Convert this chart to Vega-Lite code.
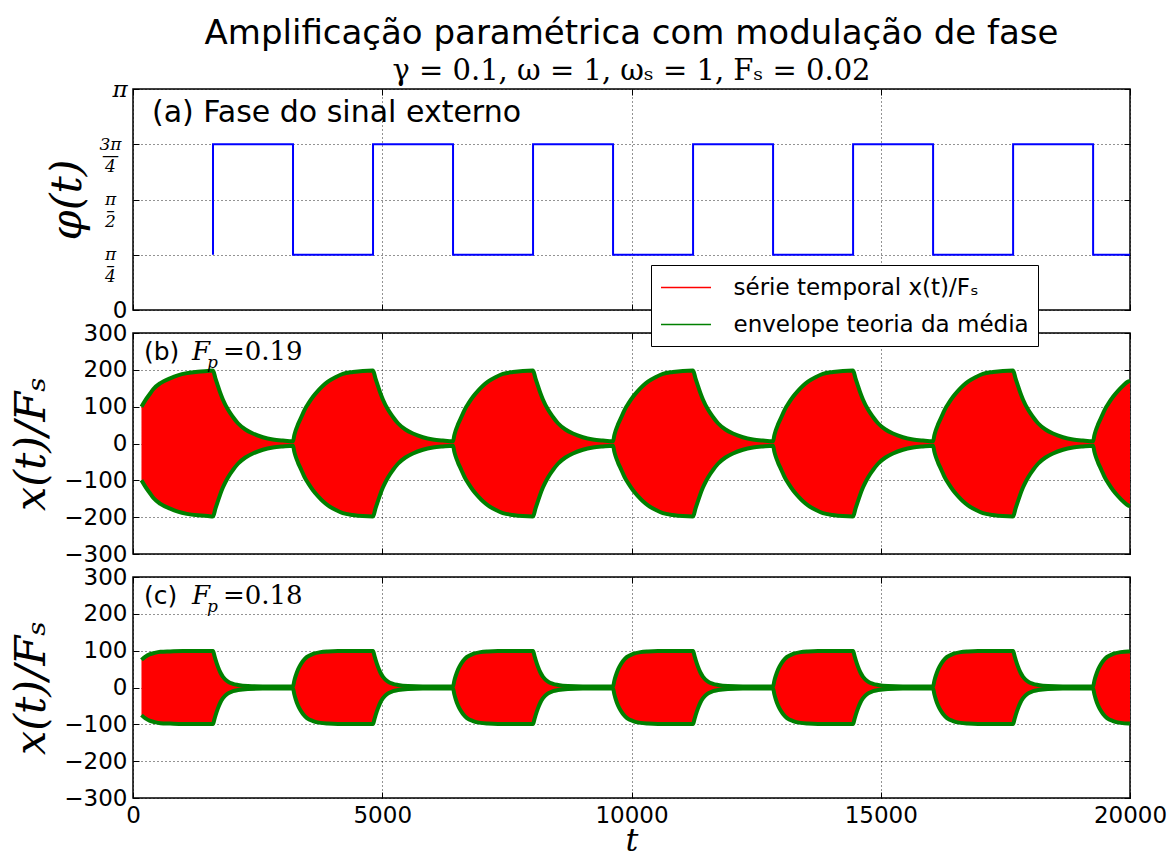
{
  "$schema": "https://vega.github.io/schema/vega-lite/v6.json",
  "background": "white",
  "padding": {"left": 10, "top": 17, "right": 4, "bottom": 0},
  "bounds": "flush",
  "spacing": 23,
  "title": {
    "text": "Amplificação paramétrica com modulação de fase",
    "subtitle": "γ = 0.1, ω = 1, ωₛ = 1, Fₛ = 0.02",
    "anchor": "middle",
    "frame": "group",
    "font": "DejaVu Sans",
    "fontSize": 34,
    "fontWeight": "normal",
    "color": "#000",
    "subtitleFont": "DejaVu Serif",
    "subtitleFontSize": 29,
    "subtitleColor": "#000",
    "subtitlePadding": 6,
    "offset": -9
  },
  "datasets": {
    "phase": [
      {"i": 0, "t": 1605, "phi": 0.7854},
      {"i": 1, "t": 1605, "phi": 2.3562},
      {"i": 2, "t": 3210, "phi": 0.7854},
      {"i": 3, "t": 4815, "phi": 2.3562},
      {"i": 4, "t": 6420, "phi": 0.7854},
      {"i": 5, "t": 8025, "phi": 2.3562},
      {"i": 6, "t": 9630, "phi": 0.7854},
      {"i": 7, "t": 11235, "phi": 2.3562},
      {"i": 8, "t": 12840, "phi": 0.7854},
      {"i": 9, "t": 14445, "phi": 2.3562},
      {"i": 10, "t": 16050, "phi": 0.7854},
      {"i": 11, "t": 17655, "phi": 2.3562},
      {"i": 12, "t": 19260, "phi": 0.7854},
      {"i": 13, "t": 20000, "phi": 0.7854}
    ],
    "envB": [
      {"t":170,"hi":100,"lo":-100},{"t":250,"hi":118,"lo":-118},{"t":330,"hi":133,"lo":-133},{"t":410,"hi":148,"lo":-148},{"t":550,"hi":164,"lo":-164},{"t":745,"hi":177,"lo":-177},{"t":900,"hi":185,"lo":-185},{"t":1080,"hi":191,"lo":-191},{"t":1300,"hi":195,"lo":-195},{"t":1500,"hi":197,"lo":-197},
      {"t":1605,"hi":198,"lo":-198},{"t":1655,"hi":176,"lo":-176},{"t":1705,"hi":156,"lo":-156},{"t":1755,"hi":136,"lo":-136},{"t":1805,"hi":119,"lo":-119},{"t":1905,"hi":92,"lo":-92},{"t":2005,"hi":72,"lo":-72},{"t":2105,"hi":55,"lo":-55},{"t":2255,"hi":38,"lo":-38},{"t":2405,"hi":27,"lo":-27},{"t":2605,"hi":17,"lo":-17},{"t":2805,"hi":11,"lo":-11},{"t":3005,"hi":8,"lo":-8},
      {"t":3210,"hi":6,"lo":-6},{"t":3235,"hi":22,"lo":-22},{"t":3260,"hi":34,"lo":-34},{"t":3310,"hi":52,"lo":-52},{"t":3360,"hi":67,"lo":-67},{"t":3410,"hi":82,"lo":-82},{"t":3460,"hi":96,"lo":-96},{"t":3510,"hi":107,"lo":-107},{"t":3610,"hi":127,"lo":-127},{"t":3710,"hi":143,"lo":-143},{"t":3810,"hi":157,"lo":-157},{"t":3910,"hi":168,"lo":-168},{"t":4060,"hi":180,"lo":-180},{"t":4210,"hi":189,"lo":-189},{"t":4410,"hi":194,"lo":-194},{"t":4610,"hi":197,"lo":-197},
      {"t":4815,"hi":198,"lo":-198},{"t":4865,"hi":176,"lo":-176},{"t":4915,"hi":156,"lo":-156},{"t":4965,"hi":136,"lo":-136},{"t":5015,"hi":119,"lo":-119},{"t":5115,"hi":92,"lo":-92},{"t":5215,"hi":72,"lo":-72},{"t":5315,"hi":55,"lo":-55},{"t":5465,"hi":38,"lo":-38},{"t":5615,"hi":27,"lo":-27},{"t":5815,"hi":17,"lo":-17},{"t":6015,"hi":11,"lo":-11},{"t":6215,"hi":8,"lo":-8},
      {"t":6420,"hi":6,"lo":-6},{"t":6445,"hi":22,"lo":-22},{"t":6470,"hi":34,"lo":-34},{"t":6520,"hi":52,"lo":-52},{"t":6570,"hi":67,"lo":-67},{"t":6620,"hi":82,"lo":-82},{"t":6670,"hi":96,"lo":-96},{"t":6720,"hi":107,"lo":-107},{"t":6820,"hi":127,"lo":-127},{"t":6920,"hi":143,"lo":-143},{"t":7020,"hi":157,"lo":-157},{"t":7120,"hi":168,"lo":-168},{"t":7270,"hi":180,"lo":-180},{"t":7420,"hi":189,"lo":-189},{"t":7620,"hi":194,"lo":-194},{"t":7820,"hi":197,"lo":-197},
      {"t":8025,"hi":198,"lo":-198},{"t":8075,"hi":176,"lo":-176},{"t":8125,"hi":156,"lo":-156},{"t":8175,"hi":136,"lo":-136},{"t":8225,"hi":119,"lo":-119},{"t":8325,"hi":92,"lo":-92},{"t":8425,"hi":72,"lo":-72},{"t":8525,"hi":55,"lo":-55},{"t":8675,"hi":38,"lo":-38},{"t":8825,"hi":27,"lo":-27},{"t":9025,"hi":17,"lo":-17},{"t":9225,"hi":11,"lo":-11},{"t":9425,"hi":8,"lo":-8},
      {"t":9630,"hi":6,"lo":-6},{"t":9655,"hi":22,"lo":-22},{"t":9680,"hi":34,"lo":-34},{"t":9730,"hi":52,"lo":-52},{"t":9780,"hi":67,"lo":-67},{"t":9830,"hi":82,"lo":-82},{"t":9880,"hi":96,"lo":-96},{"t":9930,"hi":107,"lo":-107},{"t":10030,"hi":127,"lo":-127},{"t":10130,"hi":143,"lo":-143},{"t":10230,"hi":157,"lo":-157},{"t":10330,"hi":168,"lo":-168},{"t":10480,"hi":180,"lo":-180},{"t":10630,"hi":189,"lo":-189},{"t":10830,"hi":194,"lo":-194},{"t":11030,"hi":197,"lo":-197},
      {"t":11235,"hi":198,"lo":-198},{"t":11285,"hi":176,"lo":-176},{"t":11335,"hi":156,"lo":-156},{"t":11385,"hi":136,"lo":-136},{"t":11435,"hi":119,"lo":-119},{"t":11535,"hi":92,"lo":-92},{"t":11635,"hi":72,"lo":-72},{"t":11735,"hi":55,"lo":-55},{"t":11885,"hi":38,"lo":-38},{"t":12035,"hi":27,"lo":-27},{"t":12235,"hi":17,"lo":-17},{"t":12435,"hi":11,"lo":-11},{"t":12635,"hi":8,"lo":-8},
      {"t":12840,"hi":6,"lo":-6},{"t":12865,"hi":22,"lo":-22},{"t":12890,"hi":34,"lo":-34},{"t":12940,"hi":52,"lo":-52},{"t":12990,"hi":67,"lo":-67},{"t":13040,"hi":82,"lo":-82},{"t":13090,"hi":96,"lo":-96},{"t":13140,"hi":107,"lo":-107},{"t":13240,"hi":127,"lo":-127},{"t":13340,"hi":143,"lo":-143},{"t":13440,"hi":157,"lo":-157},{"t":13540,"hi":168,"lo":-168},{"t":13690,"hi":180,"lo":-180},{"t":13840,"hi":189,"lo":-189},{"t":14040,"hi":194,"lo":-194},{"t":14240,"hi":197,"lo":-197},
      {"t":14445,"hi":198,"lo":-198},{"t":14495,"hi":176,"lo":-176},{"t":14545,"hi":156,"lo":-156},{"t":14595,"hi":136,"lo":-136},{"t":14645,"hi":119,"lo":-119},{"t":14745,"hi":92,"lo":-92},{"t":14845,"hi":72,"lo":-72},{"t":14945,"hi":55,"lo":-55},{"t":15095,"hi":38,"lo":-38},{"t":15245,"hi":27,"lo":-27},{"t":15445,"hi":17,"lo":-17},{"t":15645,"hi":11,"lo":-11},{"t":15845,"hi":8,"lo":-8},
      {"t":16050,"hi":6,"lo":-6},{"t":16075,"hi":22,"lo":-22},{"t":16100,"hi":34,"lo":-34},{"t":16150,"hi":52,"lo":-52},{"t":16200,"hi":67,"lo":-67},{"t":16250,"hi":82,"lo":-82},{"t":16300,"hi":96,"lo":-96},{"t":16350,"hi":107,"lo":-107},{"t":16450,"hi":127,"lo":-127},{"t":16550,"hi":143,"lo":-143},{"t":16650,"hi":157,"lo":-157},{"t":16750,"hi":168,"lo":-168},{"t":16900,"hi":180,"lo":-180},{"t":17050,"hi":189,"lo":-189},{"t":17250,"hi":194,"lo":-194},{"t":17450,"hi":197,"lo":-197},
      {"t":17655,"hi":198,"lo":-198},{"t":17705,"hi":176,"lo":-176},{"t":17755,"hi":156,"lo":-156},{"t":17805,"hi":136,"lo":-136},{"t":17855,"hi":119,"lo":-119},{"t":17955,"hi":92,"lo":-92},{"t":18055,"hi":72,"lo":-72},{"t":18155,"hi":55,"lo":-55},{"t":18305,"hi":38,"lo":-38},{"t":18455,"hi":27,"lo":-27},{"t":18655,"hi":17,"lo":-17},{"t":18855,"hi":11,"lo":-11},{"t":19055,"hi":8,"lo":-8},
      {"t":19260,"hi":6,"lo":-6},{"t":19285,"hi":22,"lo":-22},{"t":19310,"hi":34,"lo":-34},{"t":19360,"hi":52,"lo":-52},{"t":19410,"hi":67,"lo":-67},{"t":19460,"hi":82,"lo":-82},{"t":19510,"hi":96,"lo":-96},{"t":19560,"hi":107,"lo":-107},{"t":19660,"hi":127,"lo":-127},{"t":19760,"hi":143,"lo":-143},{"t":19860,"hi":157,"lo":-157},{"t":19960,"hi":168,"lo":-168},{"t":20000,"hi":170,"lo":-170}
    ],
    "envC": [
      {"t":170,"hi":75,"lo":-75},{"t":250,"hi":84,"lo":-84},{"t":330,"hi":90,"lo":-90},{"t":410,"hi":93,"lo":-93},{"t":550,"hi":97,"lo":-97},{"t":745,"hi":98,"lo":-98},{"t":1000,"hi":99,"lo":-99},{"t":1400,"hi":99,"lo":-99},
      {"t":1605,"hi":99,"lo":-99},{"t":1630,"hi":88,"lo":-88},{"t":1655,"hi":76,"lo":-76},{"t":1705,"hi":56,"lo":-56},{"t":1755,"hi":40,"lo":-40},{"t":1805,"hi":29,"lo":-29},{"t":1905,"hi":16,"lo":-16},{"t":2005,"hi":10,"lo":-10},{"t":2105,"hi":7,"lo":-7},{"t":2305,"hi":4,"lo":-4},{"t":2605,"hi":3,"lo":-3},{"t":3005,"hi":3,"lo":-3},
      {"t":3210,"hi":3,"lo":-3},{"t":3235,"hi":18,"lo":-18},{"t":3260,"hi":30,"lo":-30},{"t":3310,"hi":49,"lo":-49},{"t":3360,"hi":62,"lo":-62},{"t":3410,"hi":72,"lo":-72},{"t":3490,"hi":83,"lo":-83},{"t":3610,"hi":91,"lo":-91},{"t":3760,"hi":96,"lo":-96},{"t":3910,"hi":98,"lo":-98},{"t":4110,"hi":99,"lo":-99},{"t":4610,"hi":99,"lo":-99},
      {"t":4815,"hi":99,"lo":-99},{"t":4840,"hi":88,"lo":-88},{"t":4865,"hi":76,"lo":-76},{"t":4915,"hi":56,"lo":-56},{"t":4965,"hi":40,"lo":-40},{"t":5015,"hi":29,"lo":-29},{"t":5115,"hi":16,"lo":-16},{"t":5215,"hi":10,"lo":-10},{"t":5315,"hi":7,"lo":-7},{"t":5515,"hi":4,"lo":-4},{"t":5815,"hi":3,"lo":-3},{"t":6215,"hi":3,"lo":-3},
      {"t":6420,"hi":3,"lo":-3},{"t":6445,"hi":18,"lo":-18},{"t":6470,"hi":30,"lo":-30},{"t":6520,"hi":49,"lo":-49},{"t":6570,"hi":62,"lo":-62},{"t":6620,"hi":72,"lo":-72},{"t":6700,"hi":83,"lo":-83},{"t":6820,"hi":91,"lo":-91},{"t":6970,"hi":96,"lo":-96},{"t":7120,"hi":98,"lo":-98},{"t":7320,"hi":99,"lo":-99},{"t":7820,"hi":99,"lo":-99},
      {"t":8025,"hi":99,"lo":-99},{"t":8050,"hi":88,"lo":-88},{"t":8075,"hi":76,"lo":-76},{"t":8125,"hi":56,"lo":-56},{"t":8175,"hi":40,"lo":-40},{"t":8225,"hi":29,"lo":-29},{"t":8325,"hi":16,"lo":-16},{"t":8425,"hi":10,"lo":-10},{"t":8525,"hi":7,"lo":-7},{"t":8725,"hi":4,"lo":-4},{"t":9025,"hi":3,"lo":-3},{"t":9425,"hi":3,"lo":-3},
      {"t":9630,"hi":3,"lo":-3},{"t":9655,"hi":18,"lo":-18},{"t":9680,"hi":30,"lo":-30},{"t":9730,"hi":49,"lo":-49},{"t":9780,"hi":62,"lo":-62},{"t":9830,"hi":72,"lo":-72},{"t":9910,"hi":83,"lo":-83},{"t":10030,"hi":91,"lo":-91},{"t":10180,"hi":96,"lo":-96},{"t":10330,"hi":98,"lo":-98},{"t":10530,"hi":99,"lo":-99},{"t":11030,"hi":99,"lo":-99},
      {"t":11235,"hi":99,"lo":-99},{"t":11260,"hi":88,"lo":-88},{"t":11285,"hi":76,"lo":-76},{"t":11335,"hi":56,"lo":-56},{"t":11385,"hi":40,"lo":-40},{"t":11435,"hi":29,"lo":-29},{"t":11535,"hi":16,"lo":-16},{"t":11635,"hi":10,"lo":-10},{"t":11735,"hi":7,"lo":-7},{"t":11935,"hi":4,"lo":-4},{"t":12235,"hi":3,"lo":-3},{"t":12635,"hi":3,"lo":-3},
      {"t":12840,"hi":3,"lo":-3},{"t":12865,"hi":18,"lo":-18},{"t":12890,"hi":30,"lo":-30},{"t":12940,"hi":49,"lo":-49},{"t":12990,"hi":62,"lo":-62},{"t":13040,"hi":72,"lo":-72},{"t":13120,"hi":83,"lo":-83},{"t":13240,"hi":91,"lo":-91},{"t":13390,"hi":96,"lo":-96},{"t":13540,"hi":98,"lo":-98},{"t":13740,"hi":99,"lo":-99},{"t":14240,"hi":99,"lo":-99},
      {"t":14445,"hi":99,"lo":-99},{"t":14470,"hi":88,"lo":-88},{"t":14495,"hi":76,"lo":-76},{"t":14545,"hi":56,"lo":-56},{"t":14595,"hi":40,"lo":-40},{"t":14645,"hi":29,"lo":-29},{"t":14745,"hi":16,"lo":-16},{"t":14845,"hi":10,"lo":-10},{"t":14945,"hi":7,"lo":-7},{"t":15145,"hi":4,"lo":-4},{"t":15445,"hi":3,"lo":-3},{"t":15845,"hi":3,"lo":-3},
      {"t":16050,"hi":3,"lo":-3},{"t":16075,"hi":18,"lo":-18},{"t":16100,"hi":30,"lo":-30},{"t":16150,"hi":49,"lo":-49},{"t":16200,"hi":62,"lo":-62},{"t":16250,"hi":72,"lo":-72},{"t":16330,"hi":83,"lo":-83},{"t":16450,"hi":91,"lo":-91},{"t":16600,"hi":96,"lo":-96},{"t":16750,"hi":98,"lo":-98},{"t":16950,"hi":99,"lo":-99},{"t":17450,"hi":99,"lo":-99},
      {"t":17655,"hi":99,"lo":-99},{"t":17680,"hi":88,"lo":-88},{"t":17705,"hi":76,"lo":-76},{"t":17755,"hi":56,"lo":-56},{"t":17805,"hi":40,"lo":-40},{"t":17855,"hi":29,"lo":-29},{"t":17955,"hi":16,"lo":-16},{"t":18055,"hi":10,"lo":-10},{"t":18155,"hi":7,"lo":-7},{"t":18355,"hi":4,"lo":-4},{"t":18655,"hi":3,"lo":-3},{"t":19055,"hi":3,"lo":-3},
      {"t":19260,"hi":3,"lo":-3},{"t":19285,"hi":18,"lo":-18},{"t":19310,"hi":30,"lo":-30},{"t":19360,"hi":49,"lo":-49},{"t":19410,"hi":62,"lo":-62},{"t":19460,"hi":72,"lo":-72},{"t":19540,"hi":83,"lo":-83},{"t":19660,"hi":91,"lo":-91},{"t":19810,"hi":96,"lo":-96},{"t":19960,"hi":98,"lo":-98},{"t":20000,"hi":98,"lo":-98}
    ]
  },
  "vconcat": [
    {
      "width": 997,
      "height": 221,
      "resolve": {"axis": {"x": "independent", "y": "independent"}},
      "layer": [
        {
          "data": {"name": "phase"},
          "mark": {"type": "line", "interpolate": "step-after", "color": "#0000ff", "strokeWidth": 2},
          "encoding": {
            "x": {"field": "t", "type": "quantitative", "scale": {"domain": [0, 20000], "nice": false},
                  "axis": {"values": [0, 5000, 10000, 15000, 20000], "labels": false, "title": null}},
            "y": {"field": "phi", "type": "quantitative", "scale": {"domain": [0, 3.1415926536], "nice": false},
                  "axis": {
                    "values": [0, 0.7853981634, 1.5707963268, 2.3561944902, 3.1415926536],
                    "title": "φ(t)",
                    "labelExpr": "datum.value < 0.1 ? '0' : datum.value < 1 ? ['π', '–', '4'] : datum.value < 2 ? ['π', '–', '2'] : datum.value < 3 ? ['3π', '—', '4'] : 'π'",
                    "labelFont": {"condition": {"test": "datum.value < 0.1", "value": "DejaVu Sans"}, "value": "DejaVu Serif"},
                    "labelFontStyle": {"condition": {"test": "datum.value < 0.1", "value": "normal"}, "value": "italic"},
                    "labelFontSize": {"condition": {"test": "datum.value > 0.1 && datum.value < 3", "value": 17}, "value": 23},
                    "labelAlign": {"condition": {"test": "datum.value > 0.1 && datum.value < 3", "value": "center"}, "value": "right"},
                    "labelPadding": {"condition": {"test": "datum.value > 0.1 && datum.value < 3", "value": 29}, "value": 12},
                    "labelLineHeight": 11
                  }},
            "order": {"field": "i", "type": "quantitative"}
          }
        },
        {
          "data": {"name": "phase"},
          "mark": {"type": "point", "opacity": 0},
          "encoding": {
            "x": {"field": "t", "type": "quantitative", "scale": {"domain": [0, 20000], "nice": false},
                  "axis": {"orient": "top", "values": [0, 5000, 10000, 15000, 20000], "labels": false, "grid": false, "title": null}},
            "y": {"field": "phi", "type": "quantitative", "scale": {"domain": [0, 3.1415926536], "nice": false},
                  "axis": {"orient": "right", "values": [0, 0.7853981634, 1.5707963268, 2.3561944902, 3.1415926536], "labels": false, "grid": false, "title": null}}
          }
        },
        {
          "data": {"values": [{}]},
          "mark": {"type": "text", "align": "left", "baseline": "alphabetic", "font": "DejaVu Sans", "fontSize": 30, "color": "#000"},
          "encoding": {"x": {"datum": 380, "axis": null}, "y": {"datum": 2.67, "axis": null}, "text": {"value": "(a) Fase do sinal externo"}}
        }
      ]
    },
    {
      "width": 997,
      "height": 221,
      "resolve": {"axis": {"x": "independent", "y": "independent"}},
      "layer": [
        {
          "data": {"name": "envB"},
          "mark": {"type": "area", "interpolate": "monotone", "opacity": 1},
          "encoding": {
            "x": {"field": "t", "type": "quantitative", "scale": {"domain": [0, 20000], "nice": false},
                  "axis": {"values": [0, 5000, 10000, 15000, 20000], "labels": false, "title": null}},
            "y": {"field": "hi", "type": "quantitative", "scale": {"domain": [-300, 300], "nice": false},
                  "axis": {"values": [-300, -200, -100, 0, 100, 200, 300], "tickCount": 12, "title": "x(t)/Fₛ"}},
            "y2": {"field": "lo"},
            "color": {
              "datum": "série temporal x(t)/Fₛ",
              "type": "nominal",
              "scale": {"domain": ["série temporal x(t)/Fₛ", "envelope teoria da média"], "range": ["#ff0000", "#008000"]},
              "legend": {
                "orient": "none",
                "legendX": 518,
                "legendY": 176,
                "title": null,
                "direction": "vertical",
                "symbolType": "M-2,0H2",
                "symbolSize": 625,
                "symbolOffset": 12.5,
                "labelOffset": 34,
                "labelFont": "DejaVu Sans",
                "labelFontSize": 23,
                "labelColor": "#000",
                "labelLimit": 500,
                "rowPadding": 11,
                "padding": 9,
                "fillColor": "#ffffff",
                "strokeColor": "#000000",
                "cornerRadius": 0,
                "encode": {
                  "symbols": {"update": {
                    "stroke": {"signal": "datum.value === 'envelope teoria da média' ? '#008000' : '#ff0000'"},
                    "strokeWidth": {"signal": "datum.value === 'envelope teoria da média' ? 5 : 2"},
                    "fill": {"value": "transparent"},
                    "opacity": {"value": 1}
                  }},
                  "legend": {"update": {"strokeWidth": {"value": 1.5}}}
                }
              }
            }
          }
        },
        {
          "data": {"name": "envB"},
          "mark": {"type": "line", "interpolate": "monotone", "strokeWidth": 4},
          "encoding": {
            "x": {"field": "t", "type": "quantitative", "scale": {"domain": [0, 20000], "nice": false}, "axis": null},
            "y": {"field": "hi", "type": "quantitative", "scale": {"domain": [-300, 300], "nice": false}, "axis": null},
            "color": {"datum": "envelope teoria da média", "type": "nominal"}
          }
        },
        {
          "data": {"name": "envB"},
          "mark": {"type": "line", "interpolate": "monotone", "strokeWidth": 4},
          "encoding": {
            "x": {"field": "t", "type": "quantitative", "scale": {"domain": [0, 20000], "nice": false}, "axis": null},
            "y": {"field": "lo", "type": "quantitative", "scale": {"domain": [-300, 300], "nice": false}, "axis": null},
            "color": {"datum": "envelope teoria da média", "type": "nominal"}
          }
        },
        {
          "data": {"name": "envB"},
          "mark": {"type": "point", "opacity": 0},
          "encoding": {
            "x": {"field": "t", "type": "quantitative", "scale": {"domain": [0, 20000], "nice": false},
                  "axis": {"orient": "top", "values": [0, 5000, 10000, 15000, 20000], "labels": false, "grid": false, "title": null}},
            "y": {"field": "hi", "type": "quantitative", "scale": {"domain": [-300, 300], "nice": false},
                  "axis": {"orient": "right", "values": [-300, -200, -100, 0, 100, 200, 300], "tickCount": 12, "labels": false, "grid": false, "title": null}}
          }
        },
        {
          "data": {"values": [{}]},
          "mark": {"type": "text", "align": "left", "baseline": "alphabetic", "font": "DejaVu Sans", "fontSize": 25, "color": "#000"},
          "encoding": {"x": {"datum": 220, "axis": null}, "y": {"datum": 228, "axis": null}, "text": {"value": "(b)"}}
        },
        {
          "data": {"values": [{}]},
          "mark": {"type": "text", "align": "left", "baseline": "alphabetic", "font": "DejaVu Serif", "fontStyle": "italic", "fontSize": 26, "dx": 48, "color": "#000"},
          "encoding": {"x": {"datum": 220, "axis": null}, "y": {"datum": 228, "axis": null}, "text": {"value": "F"}}
        },
        {
          "data": {"values": [{}]},
          "mark": {"type": "text", "align": "left", "baseline": "alphabetic", "font": "DejaVu Serif", "fontStyle": "italic", "fontSize": 17, "dx": 63, "dy": 8, "color": "#000"},
          "encoding": {"x": {"datum": 220, "axis": null}, "y": {"datum": 228, "axis": null}, "text": {"value": "p"}}
        },
        {
          "data": {"values": [{}]},
          "mark": {"type": "text", "align": "left", "baseline": "alphabetic", "font": "DejaVu Serif", "fontSize": 26, "dx": 79, "color": "#000"},
          "encoding": {"x": {"datum": 220, "axis": null}, "y": {"datum": 228, "axis": null}, "text": {"value": "=0.19"}}
        }
      ]
    },
    {
      "width": 997,
      "height": 221,
      "resolve": {"axis": {"x": "independent", "y": "independent"}},
      "layer": [
        {
          "data": {"name": "envC"},
          "mark": {"type": "area", "interpolate": "monotone", "color": "#ff0000", "opacity": 1},
          "encoding": {
            "x": {"field": "t", "type": "quantitative", "scale": {"domain": [0, 20000], "nice": false},
                  "axis": {"values": [0, 5000, 10000, 15000, 20000], "format": "d", "title": "t", "titleFontSize": 32, "titlePadding": -2}},
            "y": {"field": "hi", "type": "quantitative", "scale": {"domain": [-300, 300], "nice": false},
                  "axis": {"values": [-300, -200, -100, 0, 100, 200, 300], "tickCount": 12, "title": "x(t)/Fₛ"}},
            "y2": {"field": "lo"}
          }
        },
        {
          "data": {"name": "envC"},
          "mark": {"type": "line", "interpolate": "monotone", "strokeWidth": 4, "color": "#008000"},
          "encoding": {
            "x": {"field": "t", "type": "quantitative", "scale": {"domain": [0, 20000], "nice": false}, "axis": null},
            "y": {"field": "hi", "type": "quantitative", "scale": {"domain": [-300, 300], "nice": false}, "axis": null}
          }
        },
        {
          "data": {"name": "envC"},
          "mark": {"type": "line", "interpolate": "monotone", "strokeWidth": 4, "color": "#008000"},
          "encoding": {
            "x": {"field": "t", "type": "quantitative", "scale": {"domain": [0, 20000], "nice": false}, "axis": null},
            "y": {"field": "lo", "type": "quantitative", "scale": {"domain": [-300, 300], "nice": false}, "axis": null}
          }
        },
        {
          "data": {"name": "envC"},
          "mark": {"type": "point", "opacity": 0},
          "encoding": {
            "x": {"field": "t", "type": "quantitative", "scale": {"domain": [0, 20000], "nice": false},
                  "axis": {"orient": "top", "values": [0, 5000, 10000, 15000, 20000], "labels": false, "grid": false, "title": null}},
            "y": {"field": "hi", "type": "quantitative", "scale": {"domain": [-300, 300], "nice": false},
                  "axis": {"orient": "right", "values": [-300, -200, -100, 0, 100, 200, 300], "tickCount": 12, "labels": false, "grid": false, "title": null}}
          }
        },
        {
          "data": {"values": [{}]},
          "mark": {"type": "text", "align": "left", "baseline": "alphabetic", "font": "DejaVu Sans", "fontSize": 25, "color": "#000"},
          "encoding": {"x": {"datum": 220, "axis": null}, "y": {"datum": 226, "axis": null}, "text": {"value": "(c)"}}
        },
        {
          "data": {"values": [{}]},
          "mark": {"type": "text", "align": "left", "baseline": "alphabetic", "font": "DejaVu Serif", "fontStyle": "italic", "fontSize": 26, "dx": 48, "color": "#000"},
          "encoding": {"x": {"datum": 220, "axis": null}, "y": {"datum": 226, "axis": null}, "text": {"value": "F"}}
        },
        {
          "data": {"values": [{}]},
          "mark": {"type": "text", "align": "left", "baseline": "alphabetic", "font": "DejaVu Serif", "fontStyle": "italic", "fontSize": 17, "dx": 63, "dy": 8, "color": "#000"},
          "encoding": {"x": {"datum": 220, "axis": null}, "y": {"datum": 226, "axis": null}, "text": {"value": "p"}}
        },
        {
          "data": {"values": [{}]},
          "mark": {"type": "text", "align": "left", "baseline": "alphabetic", "font": "DejaVu Serif", "fontSize": 26, "dx": 79, "color": "#000"},
          "encoding": {"x": {"datum": 220, "axis": null}, "y": {"datum": 226, "axis": null}, "text": {"value": "=0.18"}}
        }
      ]
    }
  ],
  "config": {
    "view": {"stroke": "#000000", "strokeWidth": 1.5},
    "font": "DejaVu Sans",
    "axis": {
      "zindex": 1,
      "domain": false,
      "grid": true,
      "gridColor": "#000000",
      "gridDash": [1, 3],
      "gridOpacity": 0.85,
      "gridWidth": 1,
      "ticks": true,
      "tickColor": "#000000",
      "tickSize": -6,
      "tickWidth": 1,
      "labelFont": "DejaVu Sans",
      "labelFontSize": 23,
      "labelColor": "#000000",
      "labelPadding": 12,
      "labelFlush": false,
      "labelOverlap": false,
      "labelBound": false,
      "titleFont": "DejaVu Serif",
      "titleFontStyle": "italic",
      "titleFontWeight": "normal",
      "titleFontSize": 43,
      "titleColor": "#000000",
      "titlePadding": 10
    }
  }
}
